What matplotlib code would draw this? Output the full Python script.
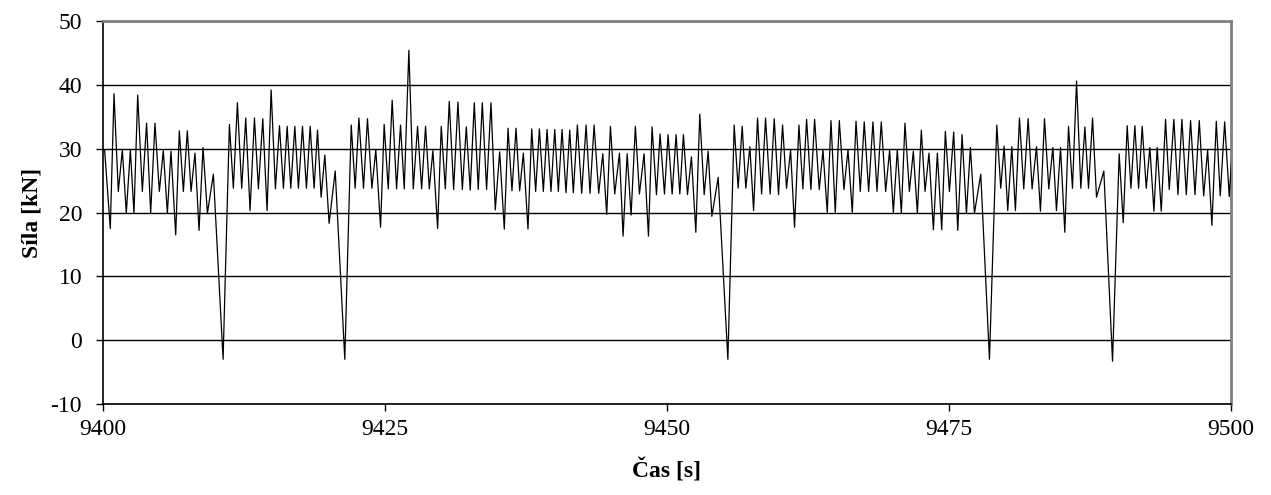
import matplotlib
matplotlib.use("Agg")
import matplotlib.pyplot as plt

# Time [s] and force [kN]
time_s = [
    9400.15, 9400.65, 9400.98, 9401.36, 9401.72, 9402.07, 9402.43, 9402.75, 9403.08, 9403.49,
    9403.87, 9404.23, 9404.61, 9405.00, 9405.35, 9405.71, 9406.03, 9406.45, 9406.77, 9407.13,
    9407.48, 9407.81, 9408.16, 9408.52, 9408.87, 9409.26, 9409.79, 9410.65, 9411.21, 9411.56,
    9411.92, 9412.30, 9412.66, 9413.04, 9413.43, 9413.78, 9414.17, 9414.55, 9414.91, 9415.29,
    9415.65, 9416.00, 9416.33, 9416.65, 9417.01, 9417.33, 9417.69, 9418.04, 9418.37, 9418.72,
    9419.02, 9419.34, 9419.67, 9420.05, 9420.59, 9421.44, 9422.01, 9422.36, 9422.69, 9423.10,
    9423.45, 9423.84, 9424.19, 9424.61, 9424.93, 9425.29, 9425.64, 9426.03, 9426.38, 9426.71,
    9427.12, 9427.51, 9427.89, 9428.25, 9428.60, 9428.93, 9429.25, 9429.67, 9429.99, 9430.35,
    9430.70, 9431.09, 9431.47, 9431.86, 9432.21, 9432.56, 9432.92, 9433.27, 9433.63, 9434.01,
    9434.40, 9434.78, 9435.17, 9435.58, 9435.91, 9436.26, 9436.62, 9436.94, 9437.27, 9437.68,
    9438.01, 9438.36, 9438.69, 9439.04, 9439.37, 9439.72, 9440.05, 9440.37, 9440.70, 9441.05,
    9441.38, 9441.70, 9442.06, 9442.44, 9442.83, 9443.18, 9443.54, 9443.95, 9444.31, 9444.66,
    9444.99, 9445.37, 9445.79, 9446.11, 9446.47, 9446.82, 9447.20, 9447.56, 9447.97, 9448.36,
    9448.68, 9449.07, 9449.39, 9449.78, 9450.10, 9450.46, 9450.81, 9451.14, 9451.46, 9451.82,
    9452.17, 9452.56, 9452.91, 9453.30, 9453.65, 9453.98, 9454.54, 9455.40, 9455.96, 9456.31,
    9456.67, 9456.99, 9457.35, 9457.68, 9458.03, 9458.39, 9458.74, 9459.15, 9459.51, 9459.89,
    9460.25, 9460.60, 9460.96, 9461.31, 9461.70, 9462.05, 9462.38, 9462.76, 9463.09, 9463.50,
    9463.83, 9464.21, 9464.54, 9464.92, 9465.28, 9465.69, 9466.05, 9466.43, 9466.76, 9467.14,
    9467.49, 9467.88, 9468.26, 9468.62, 9469.00, 9469.39, 9469.74, 9470.07, 9470.42, 9470.78,
    9471.10, 9471.49, 9471.84, 9472.20, 9472.55, 9472.88, 9473.23, 9473.62, 9473.97, 9474.36,
    9474.68, 9475.04, 9475.42, 9475.78, 9476.16, 9476.55, 9476.90, 9477.26, 9477.82, 9478.59,
    9479.24, 9479.59, 9479.89, 9480.21, 9480.57, 9480.89, 9481.25, 9481.63, 9482.02, 9482.37,
    9482.76, 9483.11, 9483.47, 9483.85, 9484.21, 9484.53, 9484.89, 9485.27, 9485.60, 9485.95,
    9486.31, 9486.69, 9487.05, 9487.37, 9487.73, 9488.08, 9488.73, 9489.50, 9490.09, 9490.45,
    9490.80, 9491.13, 9491.48, 9491.81, 9492.13, 9492.49, 9492.81, 9493.17, 9493.46, 9493.82,
    9494.20, 9494.53, 9494.94, 9495.30, 9495.65, 9496.04, 9496.42, 9496.81, 9497.19, 9497.58,
    9497.93, 9498.31, 9498.70, 9499.05, 9499.44, 9499.85, 9500.25,
]

force_kN = [
    29.7, 17.5, 38.6, 23.3, 29.8, 19.9, 29.8, 19.9, 38.4, 23.3,
    34.0, 19.9, 34.0, 23.3, 29.7, 19.9, 29.6, 16.5, 32.8, 23.3,
    32.8, 23.3, 29.3, 17.2, 30.2, 19.9, 26.0, -3.0, 33.8, 23.8,
    37.2, 23.8, 34.8, 20.3, 34.8, 23.7, 34.7, 20.3, 39.2, 23.7,
    33.6, 23.8, 33.5, 23.8, 33.5, 23.8, 33.5, 23.8, 33.5, 23.8,
    32.9, 22.4, 29.0, 18.3, 26.5, -3.0, 33.7, 23.8, 34.8, 23.8,
    34.7, 23.8, 29.8, 17.7, 33.8, 23.7, 37.6, 23.7, 33.7, 23.7,
    45.4, 23.7, 33.5, 23.7, 33.5, 23.7, 29.7, 17.5, 33.5, 23.7,
    37.4, 23.6, 37.3, 23.6, 33.4, 23.5, 37.2, 23.6, 37.2, 23.6,
    37.2, 20.4, 29.5, 17.4, 33.2, 23.4, 33.2, 23.4, 29.3, 17.4,
    33.1, 23.3, 33.1, 23.3, 33.0, 23.3, 33.0, 23.3, 33.0, 23.1,
    32.9, 23.1, 33.7, 23.0, 33.7, 23.0, 33.7, 23.0, 29.2, 19.7,
    33.5, 22.9, 29.3, 16.3, 29.2, 19.6, 33.5, 22.9, 29.2, 16.3,
    33.4, 22.8, 32.3, 22.9, 32.2, 22.9, 32.2, 22.9, 32.2, 22.8,
    28.7, 16.9, 35.4, 22.8, 29.6, 19.4, 25.5, -3.0, 33.7, 23.8,
    33.5, 23.8, 30.3, 20.3, 34.8, 22.9, 34.8, 22.9, 34.7, 22.8,
    33.7, 23.8, 29.8, 17.7, 33.7, 23.7, 34.6, 23.6, 34.6, 23.6,
    29.8, 20.0, 34.4, 20.0, 34.4, 23.6, 29.8, 20.0, 34.3, 23.3,
    34.2, 23.3, 34.2, 23.3, 34.2, 23.3, 29.8, 20.0, 29.8, 19.9,
    34.0, 23.3, 29.6, 19.9, 32.9, 23.3, 29.3, 17.3, 29.3, 17.3,
    32.7, 23.3, 32.6, 17.2, 32.2, 19.9, 30.2, 19.9, 26.0, -3.0,
    33.7, 23.8, 30.4, 20.3, 30.3, 20.3, 34.8, 23.7, 34.7, 23.7,
    30.3, 20.2, 34.7, 23.7, 30.2, 20.3, 30.2, 16.9, 33.5, 23.8,
    40.6, 23.8, 33.4, 23.8, 34.8, 22.4, 26.5, -3.3, 29.2, 18.4,
    33.6, 23.8, 33.6, 23.8, 33.5, 23.8, 30.2, 20.2, 30.2, 20.2,
    34.6, 23.6, 34.6, 22.8, 34.6, 22.8, 34.4, 22.8, 34.4, 22.6,
    29.8, 18.0, 34.3, 22.6, 34.2, 22.5, 34.0,
]

x_ticks = [9400, 9425, 9450, 9475, 9500]
y_ticks = [-10, 0, 10, 20, 30, 40, 50]
x_label = "Čas [s]"
y_label = "Síla [kN]"

plt.rcParams["font.family"] = ["Liberation Serif", "DejaVu Serif"]

fig = plt.figure(figsize=(12.71, 4.95), dpi=100)
ax = fig.add_axes([0.081, 0.1838, 0.8875, 0.7738])

for yv in y_ticks:
    ax.axhline(yv, color="black", linewidth=1.0, zorder=1)

ax.plot(time_s, force_kN, color="black", linewidth=0.9, zorder=3)

ax.set_xlim(9400, 9500)
ax.set_ylim(-10, 50)
ax.set_xticks(x_ticks)
ax.set_yticks(y_ticks)
ax.set_xticklabels([str(v) for v in x_ticks])
ax.set_yticklabels([str(v) for v in y_ticks])
ax.tick_params(axis="both", direction="out", length=5, width=1,
               labelsize=17, color="black")
ax.tick_params(axis="x", pad=6)
ax.tick_params(axis="y", pad=10)

for side in ("left", "bottom"):
    ax.spines[side].set_color("black")
    ax.spines[side].set_linewidth(1.2)
for side in ("top", "right"):
    ax.spines[side].set_color("#808080")
    ax.spines[side].set_linewidth(2)

ax.set_xlabel(x_label, fontsize=17, fontweight="bold", labelpad=13)
ax.set_ylabel(y_label, fontsize=17, fontweight="bold", labelpad=6)

fig.savefig("out.png", dpi=100)
